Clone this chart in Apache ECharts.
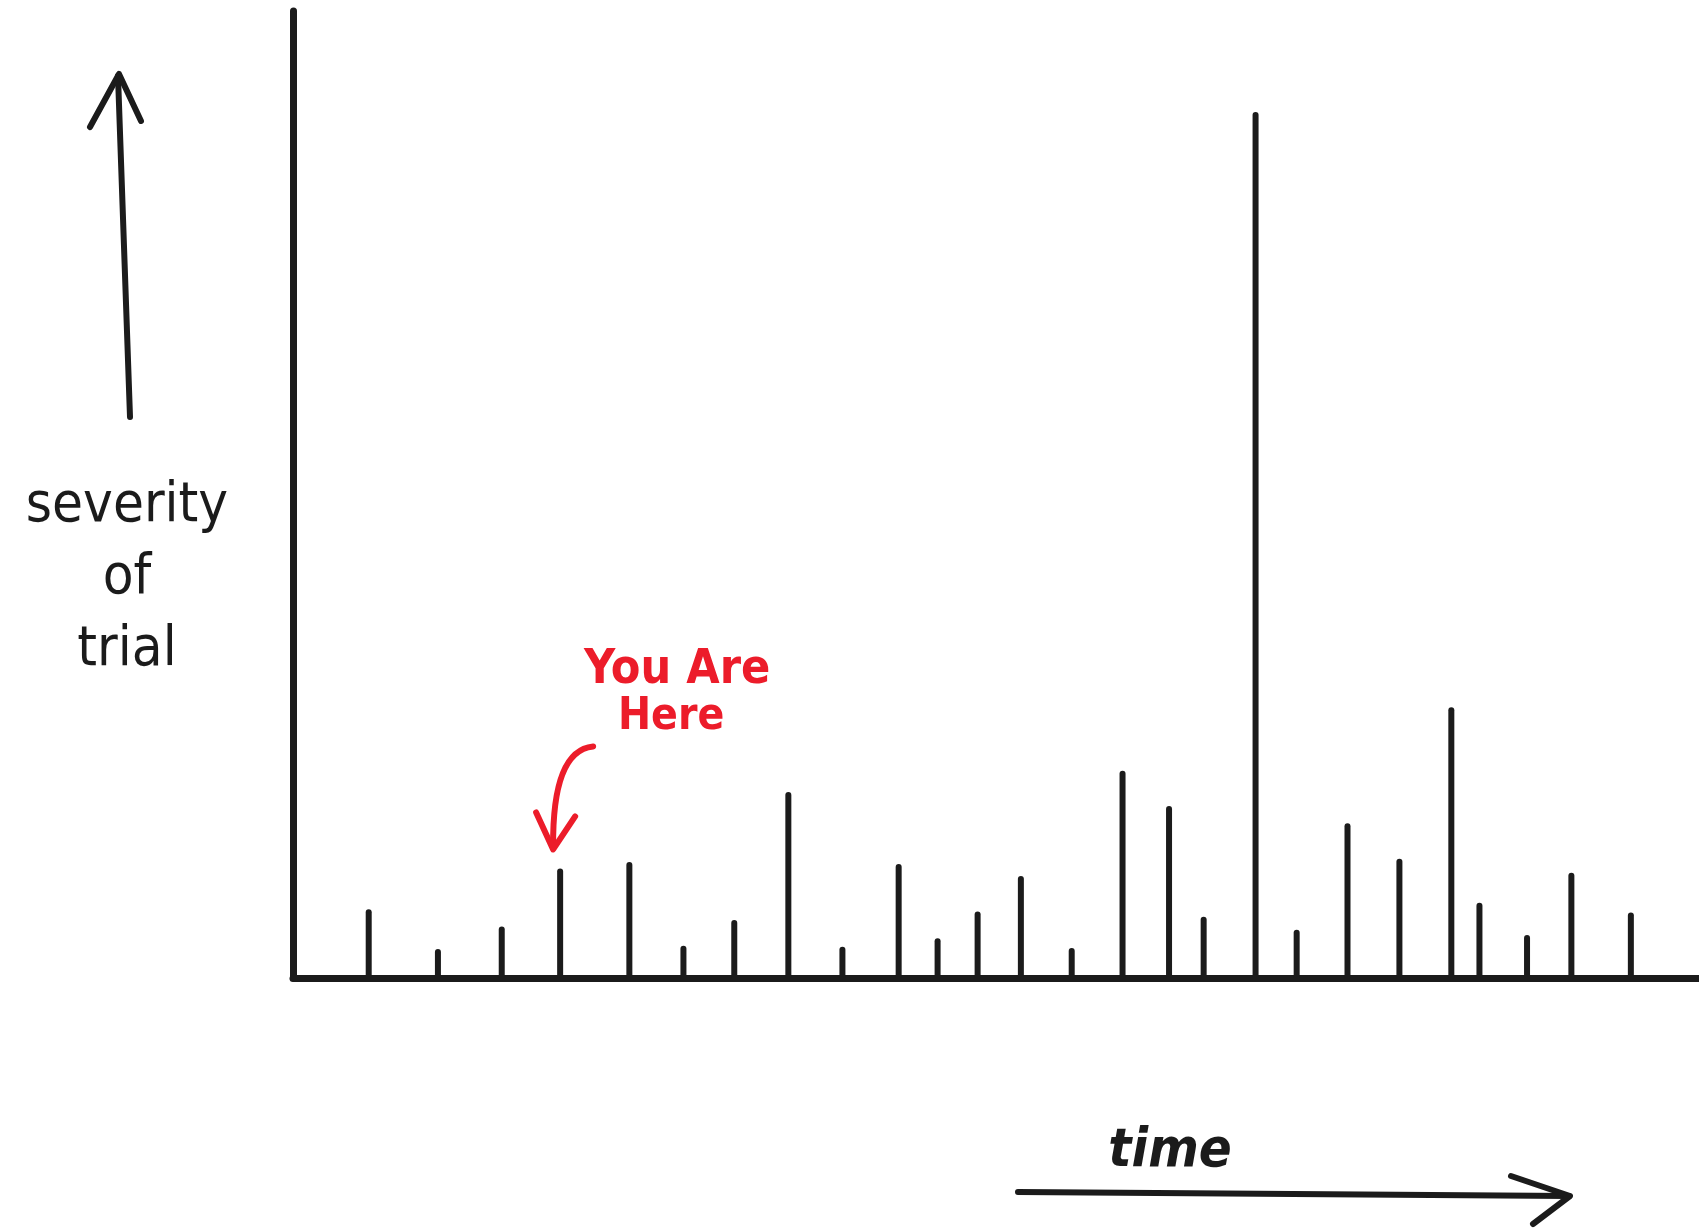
<!DOCTYPE html>
<html><head><meta charset="utf-8">
<script src="https://cdn.jsdelivr.net/npm/echarts@6/dist/echarts.min.js"></script>
<style>html,body{margin:0;padding:0;background:#fff}#c{width:1699px;height:1231px}</style>
</head><body><div id="c"></div>
<script>
// time position of each trial (arbitrary time units)
const times = [7.0, 13.4, 19.3, 24.7, 31.1, 36.1, 40.8, 45.8, 50.8, 56.0, 59.6, 63.3, 67.3,
               72.0, 76.7, 81.0, 84.2, 89.0, 92.8, 97.5, 102.3, 107.1, 109.7, 114.1, 118.2, 123.7];
// severity of each trial (arbitrary units)
const severities = [6.4, 2.7, 4.8, 10.2, 10.8, 3.0, 5.4, 17.3, 2.9, 10.6, 3.7, 6.2, 9.5,
                    2.8, 19.3, 16.0, 5.7, 80.6, 4.5, 14.4, 11.1, 25.2, 7.0, 4.0, 9.8, 6.1];
const youAreHereIndex = 3;
const yTitle = 'severity\nof\ntrial';
const xTitle = 'time';
const noteText = ['You Are', 'Here'];

const INK = '#1b1b1b';
const RED = '#ec1c2a';
const HAND = "'DejaVu Sans Condensed', 'Liberation Sans Narrow', 'DejaVu Sans', sans-serif";

const chart = echarts.init(document.getElementById('c'), null, {renderer: 'canvas'});
chart.setOption({
  backgroundColor: '#ffffff',
  animation: false,
  grid: {left: 293, right: 0, top: 11, bottom: 253},
  xAxis: {
    type: 'value', min: 0, max: 130,
    axisLine: {show: true, lineStyle: {color: INK, width: 7, cap: 'round'}},
    axisTick: {show: false}, axisLabel: {show: false}, splitLine: {show: false}
  },
  yAxis: {
    type: 'value', min: 0, max: 90,
    axisLine: {show: true, lineStyle: {color: INK, width: 7, cap: 'round'}},
    axisTick: {show: false}, axisLabel: {show: false}, splitLine: {show: false}
  },
  series: [{
    type: 'bar',
    data: times.map((t, i) => [t, severities[i]]),
    barWidth: 6,
    itemStyle: {color: INK, borderRadius: [3, 3, 0, 0]}
  }]
});

const tip = chart.convertToPixel({gridIndex: 0}, [times[youAreHereIndex], severities[youAreHereIndex]]);
const tx = tip[0], ty = tip[1];

chart.setOption({
  graphic: [
    // y-axis title and arrow
    {type: 'text', x: 127, y: 470, style: {text: yTitle, font: '500 56px ' + HAND, fill: INK, align: 'center', verticalAlign: 'top', lineHeight: 72}},
    {type: 'line', shape: {x1: 130, y1: 417, x2: 118, y2: 76}, style: {stroke: INK, lineWidth: 6, lineCap: 'round'}},
    {type: 'polyline', shape: {points: [[90, 127], [119, 74], [141, 121]]}, style: {stroke: INK, lineWidth: 6, lineCap: 'round', lineJoin: 'round', fill: null}},
    // x-axis title and arrow
    {type: 'text', x: 1170, y: 1152, style: {text: xTitle, font: 'italic 600 54px ' + HAND, fill: INK, align: 'center', verticalAlign: 'middle'}},
    {type: 'line', shape: {x1: 1018, y1: 1192, x2: 1569, y2: 1196}, style: {stroke: INK, lineWidth: 6, lineCap: 'round'}},
    {type: 'polyline', shape: {points: [[1511, 1176], [1570, 1196], [1533, 1224]]}, style: {stroke: INK, lineWidth: 6, lineCap: 'round', lineJoin: 'round', fill: null}},
    // "You Are Here" annotation, positioned from the data point
    {type: 'text', x: tx + 117, y: ty - 198, style: {text: noteText[0], font: '700 48px ' + HAND, fill: RED, align: 'center', verticalAlign: 'middle'}},
    {type: 'text', x: tx + 111, y: ty - 151, style: {text: noteText[1], font: '700 44px ' + HAND, fill: RED, align: 'center', verticalAlign: 'middle'}},
    {type: 'bezierCurve', shape: {x1: tx + 33, y1: ty - 122, cpx1: tx - 8, cpy1: ty - 118, x2: tx - 7, y2: ty - 21}, style: {stroke: RED, lineWidth: 6, lineCap: 'round', fill: null}},
    {type: 'polyline', shape: {points: [[tx - 24, ty - 56], [tx - 7, ty - 19], [tx + 15, ty - 52]]}, style: {stroke: RED, lineWidth: 6, lineCap: 'round', lineJoin: 'round', fill: null}}
  ]
});
</script>
</body></html>
